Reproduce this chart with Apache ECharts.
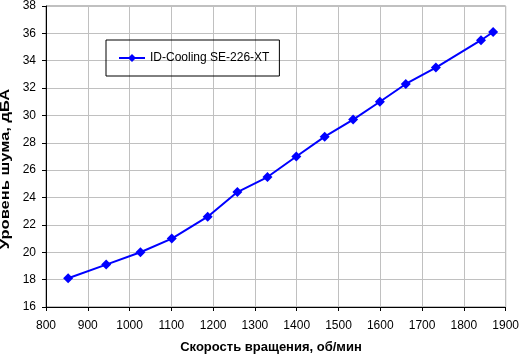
<!DOCTYPE html>
<html>
<head>
<meta charset="utf-8">
<script src="https://cdn.jsdelivr.net/npm/echarts@6/dist/echarts.min.js"></script>
<style>html,body{margin:0;padding:0;background:#fff;}#c{width:522px;height:356px;}</style>
</head>
<body>
<div id="c"></div>
<script>
const seriesName = 'ID-Cooling SE-226-XT';
const rpm = [853, 944, 1026, 1101, 1187, 1258, 1330, 1399, 1467, 1535, 1599, 1661, 1733, 1841, 1870];
const noise = [18.1, 19.1, 20.0, 21.0, 22.6, 24.4, 25.5, 27.0, 28.45, 29.7, 31.0, 32.3, 33.5, 35.5, 36.1];
const xName = 'Скорость вращения, об/мин';
const yName = 'Уровень шума, дБА';

const chart = echarts.init(document.getElementById('c'), null, {renderer: 'canvas'});
const font = 'Liberation Sans, Arial, sans-serif';
chart.setOption({
  animation: false,
  backgroundColor: '#ffffff',
  textStyle: {fontFamily: font},
  grid: {left: 46, top: 5, right: 13, bottom: 49, show: true, borderColor: '#808080', borderWidth: 1},
  legend: {
    left: 106, top: 40,
    padding: [12, 10, 12, 12],
    borderColor: '#000', borderWidth: 1,
    itemWidth: 26, itemHeight: 10, itemGap: 5,
    textStyle: {fontFamily: font, fontSize: 12, color: '#000'},
    data: [seriesName]
  },
  graphic: [
    {type: 'text', x: 5, y: 169, rotation: Math.PI / 2, scaleX: 1.27,
     style: {text: yName, font: 'bold 13px ' + font, fill: '#000', align: 'center', verticalAlign: 'middle'}},
    {type: 'text', x: 271, y: 347,
     style: {text: xName, font: 'bold 13px ' + font, fill: '#000', align: 'center', verticalAlign: 'middle'}}
  ],
  xAxis: {
    type: 'value', min: 800, max: 1900, interval: 100,
    axisLine: {show: true, lineStyle: {color: '#000', width: 1}},
    axisTick: {show: true, length: 4, lineStyle: {color: '#000'}},
    axisLabel: {margin: 13, fontSize: 12, color: '#000', fontFamily: font, formatter: v => String(v)},
    splitLine: {show: true, lineStyle: {color: '#c0c0c0', width: 1}}
  },
  yAxis: {
    type: 'value', min: 16, max: 38, interval: 2,
    axisLine: {show: true, lineStyle: {color: '#000', width: 1}},
    axisTick: {show: true, length: 4, lineStyle: {color: '#000'}},
    axisLabel: {margin: 10, fontSize: 12, color: '#000', fontFamily: font, formatter: v => String(v)},
    splitLine: {show: true, lineStyle: {color: '#c0c0c0', width: 1}}
  },
  series: [{
    name: seriesName,
    type: 'line',
    data: rpm.map((x, i) => [x, noise[i]]),
    symbol: 'diamond', symbolSize: 10,
    lineStyle: {color: '#0000ff', width: 2},
    itemStyle: {color: '#0000ff'},
    showAllSymbol: true
  }]
});
</script>
</body>
</html>
